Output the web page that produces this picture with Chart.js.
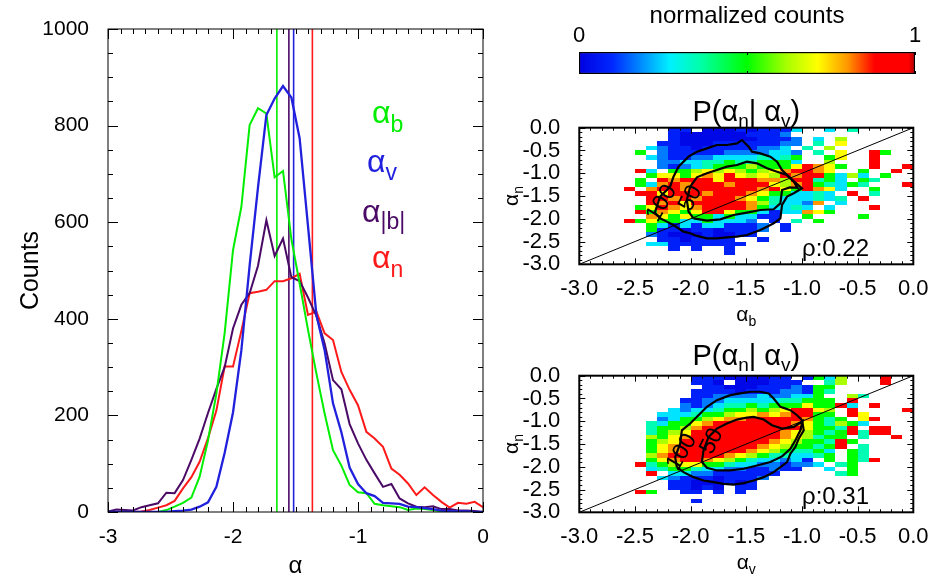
<!DOCTYPE html>
<html>
<head>
<meta charset="utf-8">
<script src="https://cdn.jsdelivr.net/npm/chart.js@4.4.1/dist/chart.umd.min.js"></script>
<style>
html,body{margin:0;padding:0;background:#fff;}
#wrap{position:relative;width:935px;height:582px;overflow:hidden;background:#fff;}
canvas{position:absolute;}
</style>
</head>
<body>
<div id="wrap">
<canvas id="hist" width="500" height="582" style="left:0;top:0;width:500px;height:582px"></canvas>
<canvas id="cbar" width="435" height="88" style="left:500px;top:0;width:435px;height:88px"></canvas>
<canvas id="pnb" width="455" height="246" style="left:480px;top:88px;width:455px;height:246px"></canvas>
<canvas id="pnv" width="455" height="246" style="left:480px;top:336px;width:455px;height:246px"></canvas>
</div>
<script>
// ---------------- DATA ----------------
const alphaBins = [-3.000,-2.933,-2.867,-2.800,-2.733,-2.667,-2.600,-2.533,-2.467,-2.400,-2.333,-2.267,-2.200,-2.133,-2.067,-2.000,-1.933,-1.867,-1.800,-1.733,-1.667,-1.600,-1.533,-1.467,-1.400,-1.333,-1.267,-1.200,-1.133,-1.067,-1.000,-0.933,-0.867,-0.800,-0.733,-0.667,-0.600,-0.533,-0.467,-0.400,-0.333,-0.267,-0.200,-0.133,-0.067,0.000];
const countsAlphaB = [0,0,0,0,0,0,0,4,11,19,30,73,148,245,370,542,632,801,836,825,693,706,565,473,377,287,204,128,96,56,41,39,17,14,12,10,4,7,6,4,1,1,0,0,0,0];
const countsAlphaV = [0,0,0,0,0,0,0,0,2,3,5,11,20,52,122,206,335,510,672,822,856,882,858,774,592,408,335,225,165,92,58,39,33,19,18,17,11,10,8,6,3,2,1,1,0,0];
const countsAlphaAbsB = [1,5,4,3,10,14,18,40,39,66,108,152,205,255,300,380,429,453,510,604,530,566,486,478,444,406,349,273,254,182,142,108,80,52,58,28,18,11,10,12,6,6,3,3,2,0];
const countsAlphaN = [0,0,0,0,1,4,9,14,23,49,72,104,153,210,301,301,375,453,456,460,478,478,484,493,408,415,370,356,290,253,221,166,152,135,90,77,59,35,51,35,21,9,19,17,21,10];
const meanAlphaB = -1.649, meanAlphaV = -1.515, meanAlphaAbsB = -1.553, meanAlphaN = -1.365;
const countTicks = [0,200,400,600,800,1000];
const alphaTicks = [-3,-2,-1,0];
const heatTicks = [-3.0,-2.5,-2.0,-1.5,-1.0,-0.5,0.0];
const heatEdges = [-3.0,-2.9,-2.8,-2.7,-2.6,-2.5,-2.4,-2.3,-2.2,-2.1,-2.0,-1.9,-1.8,-1.7,-1.6,-1.5,-1.4,-1.3,-1.2,-1.1,-1.0,-0.9,-0.8,-0.7,-0.6,-0.5,-0.4,-0.3,-0.2,-0.1,0.0];
// normalized count for each colour code ('.' = empty cell)
const levelValue = [0.02,0.08,0.17,0.26,0.35,0.5,0.62,0.71,0.8,0.93];
// rows from alpha_n = 0 (top) to -3 (bottom); columns from x = -3 to 0
const heatNB = [
"........11.000101113..3.4.....",
"........10000001112...........",
"........100000001112.3.6......",
".......1100011111122.4.7......",
"......3211011111223.4.6.......",
".....5.2111112222332.4.7..95..",
"......32112233334345..57..9...",
".......2233445445553..6...9...",
".......21234555655579875..9..9",
".....93.556767656789987..5..9.",
"......57757879767698995363.5..",
".....5.98999799988699453.54...",
".....538989998999768954354...9",
"....9.899899999989759873..5...",
".....997999899987553343.9.4...",
"......998989998754333434.9....",
"......9897999998643328.3......",
".....5798789999853343.3...9...",
".....958757997553133875.......",
"......875755353311..5....5....",
"....957553353332.1.4.5........",
"......53131331112.1...........",
"......51101101112.1...........",
"......2100010011..............",
".......1101111..1.............",
"......331111111...............",
"........1.1..1................",
".............1................",
"..............................",
".............................."];
const heatNV = [
"..........111000011.1536...9..",
"..........110.000111..46...9..",
"...........110001112155.......",
"..........1111011122154.......",
"..........112222322335..64....",
".........11223333344555.9.....",
".........2123445455575593.9...",
"........323345565679976.9....9",
".......3334556778789955.97....",
".......23556788999998545.79...",
"......43557899999998754653....",
"......4556899999999975549.99..",
"......4567999999998765459499..",
"......657899999999876455.4..9.",
"......5679999999987655495.....",
"......578999999987655459.4....",
"......57899999987654453.54....",
"......68999998765443345.54....",
"......578998765433231.5.549...",
".....94567755433221223.45.....",
"......34554332211211..3.5.....",
"......9.3322111111.....45.....",
".......3211101112.............",
"........11000101..............",
"........11010.11..............",
".....95..11.1.1...............",
"..............................",
"..........1...................",
"..............................",
".............................."];
const contourNB100 = [[-2.319,-1.843],[-2.274,-1.514],[-2.184,-1.295],[-2.154,-1.075],[-2.109,-0.856],[-2.019,-0.636],[-1.944,-0.527],[-1.854,-0.454],[-1.764,-0.380],[-1.674,-0.380],[-1.584,-0.344],[-1.539,-0.271],[-1.479,-0.417],[-1.449,-0.527],[-1.374,-0.563],[-1.284,-0.636],[-1.224,-0.746],[-1.179,-0.929],[-1.104,-1.112],[-1.000,-1.331],[-1.074,-1.441],[-1.134,-1.514],[-1.179,-1.697],[-1.194,-1.990],[-1.254,-2.100],[-1.314,-2.173],[-1.374,-2.246],[-1.494,-2.356],[-1.584,-2.392],[-1.674,-2.407],[-1.764,-2.429],[-1.854,-2.429],[-1.944,-2.377],[-2.004,-2.319],[-2.064,-2.282],[-2.154,-2.136],[-2.214,-2.063],[-2.274,-1.990],[-2.319,-1.880],[-2.319,-1.843]];
const contourNB50 = [[-1.974,-1.990],[-1.854,-2.041],[-1.734,-2.012],[-1.614,-1.917],[-1.494,-1.865],[-1.374,-1.807],[-1.254,-1.792],[-1.194,-1.661],[-1.179,-1.368],[-1.110,-1.310],[-1.040,-1.320],[-1.074,-1.185],[-1.134,-1.039],[-1.224,-0.966],[-1.314,-0.892],[-1.404,-0.783],[-1.494,-0.746],[-1.584,-0.819],[-1.674,-0.856],[-1.764,-0.929],[-1.854,-1.002],[-1.944,-1.090],[-2.004,-1.295],[-2.034,-1.587],[-2.019,-1.843],[-1.974,-1.990]];
const contourNV100 = [[-2.124,-2.007],[-2.139,-1.787],[-2.094,-1.493],[-2.079,-1.199],[-2.004,-1.051],[-1.914,-0.831],[-1.854,-0.684],[-1.764,-0.537],[-1.644,-0.426],[-1.554,-0.390],[-1.464,-0.353],[-1.374,-0.353],[-1.299,-0.390],[-1.254,-0.500],[-1.194,-0.684],[-1.104,-0.757],[-1.044,-0.868],[-0.999,-0.978],[-0.984,-1.199],[-1.029,-1.382],[-1.059,-1.566],[-1.104,-1.713],[-1.134,-1.897],[-1.194,-2.007],[-1.254,-2.118],[-1.344,-2.228],[-1.434,-2.301],[-1.524,-2.360],[-1.614,-2.390],[-1.704,-2.375],[-1.794,-2.338],[-1.884,-2.301],[-1.974,-2.228],[-2.064,-2.118],[-2.124,-2.007]];
const contourNV50 = [[-1.899,-1.897],[-1.884,-1.640],[-1.839,-1.346],[-1.764,-1.162],[-1.674,-1.051],[-1.584,-0.963],[-1.494,-0.919],[-1.434,-0.904],[-1.344,-0.963],[-1.269,-1.088],[-1.179,-1.162],[-1.074,-1.125],[-0.995,-1.000],[-1.014,-1.199],[-1.059,-1.419],[-1.104,-1.603],[-1.179,-1.772],[-1.284,-1.897],[-1.404,-1.971],[-1.524,-2.044],[-1.644,-2.081],[-1.764,-2.081],[-1.854,-2.022],[-1.899,-1.897]];
const diagLine = [-3, 0];
const rhoNB = '0.22', rhoNV = '0.31';
const cbarTicks = [0, 1];
const cbarMarks = [0, 0.5, 1];
const cmapStops = [[0.0,[0,0,225]],[0.1,[0,40,255]],[0.27,[0,240,255]],[0.36,[0,255,170]],[0.5,[0,255,0]],[0.62,[170,255,0]],[0.71,[255,255,0]],[0.8,[255,150,0]],[0.88,[255,0,0]],[0.98,[255,0,0]],[1.0,[170,0,0]]];

// ---------------- HELPERS ----------------
const FONT = "'Liberation Sans', Arial, Helvetica, sans-serif";
Chart.defaults.font.family = FONT;
Chart.defaults.color = '#000';

function cmap(t) {
  for (let i = 1; i < cmapStops.length; i++) {
    const [t1, c1] = cmapStops[i], [t0, c0] = cmapStops[i-1];
    if (t <= t1) {
      const f = (t - t0) / (t1 - t0);
      return 'rgb(' + c0.map((v,k) => Math.round(v + (c1[k]-v)*f)).join(',') + ')';
    }
  }
  return 'rgb(170,0,0)';
}
const pts = arr => arr.map(p => ({x:p[0], y:p[1]}));

const idlFrame = {
  id: 'idlFrame',
  afterDraw(chart, args, o) {
    const {ctx, chartArea:a, scales:{x, y}} = chart;
    ctx.save();
    ctx.strokeStyle = '#000';
    ctx.lineWidth = 1;
    ctx.beginPath();
    const nx = Math.round((x.max - x.min) / o.xMinor);
    for (let k = 0; k <= nx; k++) {
      const v = x.min + k * o.xMinor;
      const maj = Math.abs(v / o.xMajor - Math.round(v / o.xMajor)) < 1e-6;
      const L = maj ? o.majorLen : o.minorLen;
      const px = Math.round(x.getPixelForValue(v)) + 0.5;
      ctx.moveTo(px, a.bottom); ctx.lineTo(px, a.bottom - L);
      ctx.moveTo(px, a.top); ctx.lineTo(px, a.top + L);
    }
    const ny = Math.round((y.max - y.min) / o.yMinor);
    for (let k = 0; k <= ny; k++) {
      const v = y.min + k * o.yMinor;
      const maj = Math.abs(v / o.yMajor - Math.round(v / o.yMajor)) < 1e-6;
      const L = maj ? o.majorLen : o.minorLen;
      const py = Math.round(y.getPixelForValue(v)) + 0.5;
      ctx.moveTo(a.left, py); ctx.lineTo(a.left + L, py);
      ctx.moveTo(a.right, py); ctx.lineTo(a.right - L, py);
    }
    ctx.stroke();
    ctx.lineWidth = o.frameWidth;
    ctx.strokeRect(a.left, a.top, a.right - a.left, a.bottom - a.top);
    ctx.restore();
  }
};

const richText = {
  id: 'richText',
  afterDraw(chart, args, o) {
    const ctx = chart.ctx;
    (o.items || []).forEach(it => {
      ctx.save();
      let X = it.x, Y = it.y;
      if (it.data) { X = chart.scales.x.getPixelForValue(it.data[0]); Y = chart.scales.y.getPixelForValue(it.data[1]); }
      ctx.translate(X, Y);
      if (it.rot) ctx.rotate(it.rot);
      ctx.fillStyle = it.color || '#000';
      ctx.textBaseline = it.baseline || 'alphabetic';
      ctx.textAlign = 'left';
      let w = 0;
      it.parts.forEach(p => { ctx.font = p.s + 'px ' + FONT; w += ctx.measureText(p.t).width; });
      let cx = it.align === 'center' ? -w/2 : (it.align === 'right' ? -w : 0);
      it.parts.forEach(p => { ctx.font = p.s + 'px ' + FONT; ctx.fillText(p.t, cx, p.dy || 0); cx += ctx.measureText(p.t).width; });
      ctx.restore();
    });
  }
};

const heatCells = {
  id: 'heatCells',
  beforeDatasetsDraw(chart, args, o) {
    const {ctx, scales:{x, y}} = chart;
    ctx.save();
    o.rows.forEach((row, r) => {
      for (let c = 0; c < heatEdges.length - 1; c++) {
        const ch = row[c];
        if (!ch || ch === '.') continue;
        const val = levelValue[+ch];
        const x0 = Math.round(x.getPixelForValue(heatEdges[c]));
        const x1 = Math.round(x.getPixelForValue(heatEdges[c+1]));
        const y0 = Math.round(y.getPixelForValue(heatEdges[heatEdges.length - 1 - r]));
        const y1 = Math.round(y.getPixelForValue(heatEdges[heatEdges.length - 2 - r]));
        ctx.fillStyle = cmap(val);
        ctx.fillRect(x0, y0, x1 - x0, y1 - y0);
      }
    });
    ctx.restore();
  }
};

const cbarMarksPlugin = {
  id: 'cbarMarks',
  afterDraw(chart) {
    const {ctx, chartArea:a, scales:{x}} = chart;
    ctx.save();
    ctx.strokeStyle = '#000'; ctx.lineWidth = 1;
    ctx.beginPath();
    cbarMarks.forEach(v => {
      const px = Math.round(x.getPixelForValue(v)) + 0.5;
      ctx.moveTo(px, a.top); ctx.lineTo(px, a.top + 3);
      ctx.moveTo(px, a.bottom); ctx.lineTo(px, a.bottom - 3);
    });
    ctx.stroke();
    ctx.restore();
  }
};

// ---------------- LEFT: HISTOGRAMS ----------------
const cB = '#00ee00', cV = '#2020dd', cAB = '#4a0a66', cN = '#ff1a1a';
const lineDs = (vals, color, w) => ({data: alphaBins.map((x,i) => ({x, y: vals[i]})), showLine:true, borderColor:color, borderWidth:w, pointRadius:0, tension:0, fill:false});
const meanDs = (m, color) => ({data: [{x:m, y:countTicks[0]}, {x:m, y:countTicks[countTicks.length-1]}], showLine:true, borderColor:color, borderWidth:1.6, pointRadius:0});

new Chart(document.getElementById('hist'), {
  type: 'scatter',
  data: { datasets: [
    lineDs(countsAlphaV, cV, 2.3),
    lineDs(countsAlphaB, cB, 2),
    lineDs(countsAlphaAbsB, cAB, 2),
    lineDs(countsAlphaN, cN, 2),
    meanDs(meanAlphaB, cB), meanDs(meanAlphaAbsB, cAB), meanDs(meanAlphaV, cV), meanDs(meanAlphaN, cN)
  ]},
  options: {
    responsive:false, animation:false,
    layout:{padding:{top:29, right:17, left:0, bottom:0}},
    plugins:{
      legend:{display:false}, tooltip:{enabled:false},
      idlFrame:{xMinor:0.1, xMajor:1, yMinor:50, yMajor:200, majorLen:10, minorLen:5, frameWidth:1},
      richText:{items:[
        {x:372, y:123, color:cB, parts:[{t:'α', s:32},{t:'b', s:23, dy:9}]},
        {x:367, y:172, color:cV, parts:[{t:'α', s:32},{t:'v', s:23, dy:8}]},
        {x:362, y:222, color:cAB, parts:[{t:'α', s:32},{t:'|b|', s:23, dy:7}]},
        {x:372, y:268, color:cN, parts:[{t:'α', s:32},{t:'n', s:23, dy:9}]}
      ]}
    },
    scales:{
      x:{type:'linear', min:-3, max:0,
        afterBuildTicks: s => { s.ticks = alphaTicks.map(v => ({value:v})); },
        ticks:{autoSkip:false, maxRotation:0, padding:5, font:{size:21}, color:'#000', callback: v => String(v)},
        grid:{display:false}, border:{display:false},
        title:{display:true, text:'α', font:{size:24}, color:'#000', padding:{top:0, bottom:1}},
        afterFit: s => { s.height = 70; }},
      y:{type:'linear', min:0, max:1000,
        afterBuildTicks: s => { s.ticks = countTicks.map(v => ({value:v})); },
        ticks:{autoSkip:false, padding:11, font:{size:21}, color:'#000', callback: v => String(v)},
        grid:{display:false}, border:{display:false},
        title:{display:true, text:'Counts', font:{size:25}, color:'#000', padding:{top:16, bottom:0}},
        afterFit: s => { s.width = 108; }}
    }
  },
  plugins:[idlFrame, richText]
});

// ---------------- COLOUR BAR ----------------
new Chart(document.getElementById('cbar'), {
  type: 'bar',
  data: { labels:['c'], datasets:[{data:[[cbarTicks[0], cbarTicks[1]]],
    backgroundColor: (c) => {
      const a = c.chart.chartArea;
      if (!a) return '#888';
      const g = c.chart.ctx.createLinearGradient(a.left, 0, a.right, 0);
      cmapStops.forEach(s => g.addColorStop(s[0], 'rgb(' + s[1].join(',') + ')'));
      return g;
    },
    borderColor:'#000', borderWidth:1.5, borderSkipped:false, barPercentage:1, categoryPercentage:1}]},
  options: {
    indexAxis:'y', responsive:false, animation:false,
    layout:{padding:{top:0, left:79, right:20, bottom:14}},
    plugins:{legend:{display:false}, tooltip:{enabled:false}},
    scales:{
      x:{type:'linear', position:'top', min:0, max:1,
        afterBuildTicks: s => { s.ticks = cbarTicks.map(v => ({value:v})); },
        ticks:{autoSkip:false, maxRotation:0, padding:-5, font:{size:22}, color:'#000', callback: v => String(v)},
        grid:{display:false}, border:{display:false},
        title:{display:true, text:'normalized counts', font:{size:24}, color:'#000', padding:{top:2, bottom:0}},
        afterFit: s => { s.height = 52; }},
      y:{display:false}
    }
  },
  plugins:[cbarMarksPlugin]
});

// ---------------- RIGHT: CONDITIONAL PROBABILITY PANELS ----------------
function panel(id, rows, c100, c50, rho, xSub, titleBase, lab100, lab50) {
  new Chart(document.getElementById(id), {
    type: 'scatter',
    data: { datasets: [
      {data: pts(c100), showLine:true, borderColor:'#000', borderWidth:2.2, pointRadius:0, tension:0},
      {data: pts(c50), showLine:true, borderColor:'#000', borderWidth:2.2, pointRadius:0, tension:0},
      {data: diagLine.map(v => ({x:v, y:v})), showLine:true, borderColor:'#000', borderWidth:1, pointRadius:0}
    ]},
    options: {
      responsive:false, animation:false,
      layout:{padding:{top:39.7, right:21.7, left:0, bottom:0}},
      plugins:{
        legend:{display:false}, tooltip:{enabled:false},
        heatCells:{rows},
        idlFrame:{xMinor:0.1, xMajor:0.5, yMinor:0.1, yMajor:0.5, majorLen:6, minorLen:3, frameWidth:2},
        richText:{items:[
          {x:266.3, y:titleBase, align:'center', parts:[{t:'P(', s:29},{t:'α', s:29},{t:'n', s:19, dy:6},{t:'| ', s:29},{t:'α', s:29},{t:'v', s:19, dy:6},{t:')', s:29}]},
          {x:322, y:168, parts:[{t:'ρ:' + rho, s:24}]},
          {x:266.3, y:233, align:'center', parts:[{t:'α', s:21},{t:xSub, s:14, dy:5}]},
          {x:38, y:108, rot:-Math.PI/2, align:'center', parts:[{t:'α', s:21},{t:'n', s:14, dy:5}]},
          {data:lab100, rot:-1.04, align:'center', baseline:'middle', parts:[{t:'100', s:23}]},
          {data:lab50, rot:-1.1, align:'center', baseline:'middle', parts:[{t:'50', s:23}]}
        ]}
      },
      scales:{
        x:{type:'linear', min:-3, max:0,
          afterBuildTicks: s => { s.ticks = heatTicks.map(v => ({value:v})); },
          ticks:{autoSkip:false, maxRotation:0, padding:3, font:{size:22}, color:'#000', callback: v => v.toFixed(1)},
          grid:{display:false}, border:{display:false},
          afterFit: s => { s.height = 69.7; }},
        y:{type:'linear', min:-3, max:0,
          afterBuildTicks: s => { s.ticks = heatTicks.map(v => ({value:v})); },
          ticks:{autoSkip:false, padding:11, font:{size:22}, color:'#000', callback: v => v.toFixed(1)},
          grid:{display:false}, border:{display:false},
          afterFit: s => { s.width = 99.3; }}
      }
    },
    plugins:[heatCells, idlFrame, richText]
  });
}
panel('pnb', heatNB, contourNB100, contourNB50, rhoNB, 'b', 33, [-2.26,-1.66], [-2.0,-1.55]);
panel('pnv', heatNV, contourNV100, contourNV50, rhoNV, 'v', 29, [-2.08,-1.68], [-1.81,-1.44]);
</script>
</body>
</html>
